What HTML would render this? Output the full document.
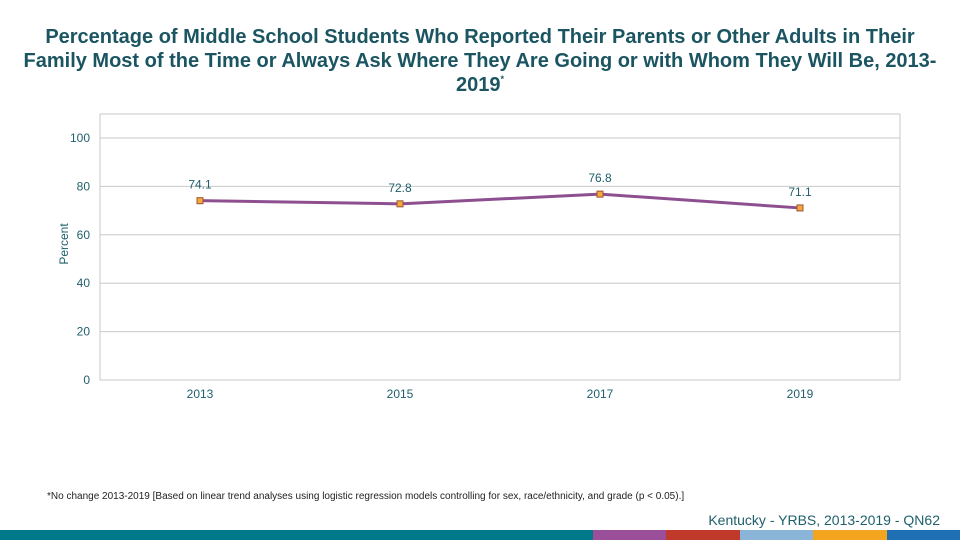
<!DOCTYPE html>
<html><head><meta charset="utf-8"><style>
body{margin:0;width:960px;height:540px;background:#fff;font-family:"Liberation Sans",sans-serif;position:relative;overflow:hidden}
#title{position:absolute;left:0;top:25px;width:960px;text-align:center;font-size:20px;font-weight:bold;color:#1a5561;line-height:24px}
#title sup{font-size:9px;vertical-align:baseline;position:relative;top:-9px;line-height:0}
</style></head><body>
<div id="title">Percentage of Middle School Students Who Reported Their Parents or Other Adults in Their<br>Family Most of the Time or Always Ask Where They Are Going or with Whom They Will Be, 2013-<br>2019<sup>*</sup></div>
<svg id="chart" width="960" height="540" style="position:absolute;left:0;top:0"></svg>
<script>
const categories=["2013","2015","2017","2019"];
const values=[74.1,72.8,76.8,71.1];
const yTicks=[0,20,40,60,80,100];
const NS="http://www.w3.org/2000/svg";
const svg=document.getElementById('chart');
const L=100,R=900,T=114,B=380,Y0=380,Y100=138;
const y=v=>Y0-(v/100)*(Y0-Y100);
const x=i=>L+(R-L)/categories.length*(i+0.5);
function mk(t,a,txt){const e=document.createElementNS(NS,t);for(const k in a)e.setAttribute(k,a[k]);if(txt!==undefined)e.textContent=txt;svg.appendChild(e);return e;}
let e=mk('rect',{x:L,y:T,width:R-L,height:B-T,fill:'none',stroke:'#c8c8c8'});


yTicks.forEach(v=>{
 let g=mk('line',{x1:L,x2:R,y1:y(v),y2:y(v),stroke:'#c8c8c8'});
 
 
 let t=mk('text',{x:90,y:y(v)+4,'text-anchor':'end','font-size':12,fill:'#1f5f6b'},v);
 
 
});
categories.forEach((c,i)=>{
 let t=mk('text',{x:x(i),y:398,'text-anchor':'middle','font-size':12,fill:'#1f5f6b'},c);
 
 
});
let yt=mk('text',{x:0,y:0,transform:'translate(68,244) rotate(-90)','text-anchor':'middle','font-size':12,fill:'#1f5f6b'},'Percent');


let pl=mk('polyline',{points:values.map((v,i)=>x(i)+','+y(v)).join(' '),fill:'none',stroke:'#8e4f91','stroke-width':3});


values.forEach((v,i)=>{
 let m=mk('rect',{x:x(i)-3,y:y(v)-3,width:6,height:6,fill:'#f4a940',stroke:'#a0522d','stroke-width':1});
 
 
 let t=mk('text',{x:x(i),y:y(v)-12,'text-anchor':'middle','font-size':12,fill:'#1f5f6b'},v.toFixed(1));
 
 
});
let fn=mk('text',{x:47,y:499,'font-size':10,fill:'#222'},'*No change 2013-2019 [Based on linear trend analyses using logistic regression models controlling for sex, race/ethnicity, and grade (p < 0.05).]');


let src=mk('text',{x:940,y:525,'text-anchor':'end','font-size':14,fill:'#1f5f6b'},'Kentucky - YRBS, 2013-2019 - QN62');


const bands=[[0,593,'#007a8a'],[593,666,'#9b4f9b'],[666,740,'#c0392b'],[740,813,'#8ab4d8'],[813,887,'#f4a520'],[887,960,'#1f6fb5']];
bands.forEach(b=>{
 let r=mk('rect',{x:b[0],y:530,width:b[1]-b[0],height:10,fill:b[2]});
 
 
});
</script>
</body></html>
